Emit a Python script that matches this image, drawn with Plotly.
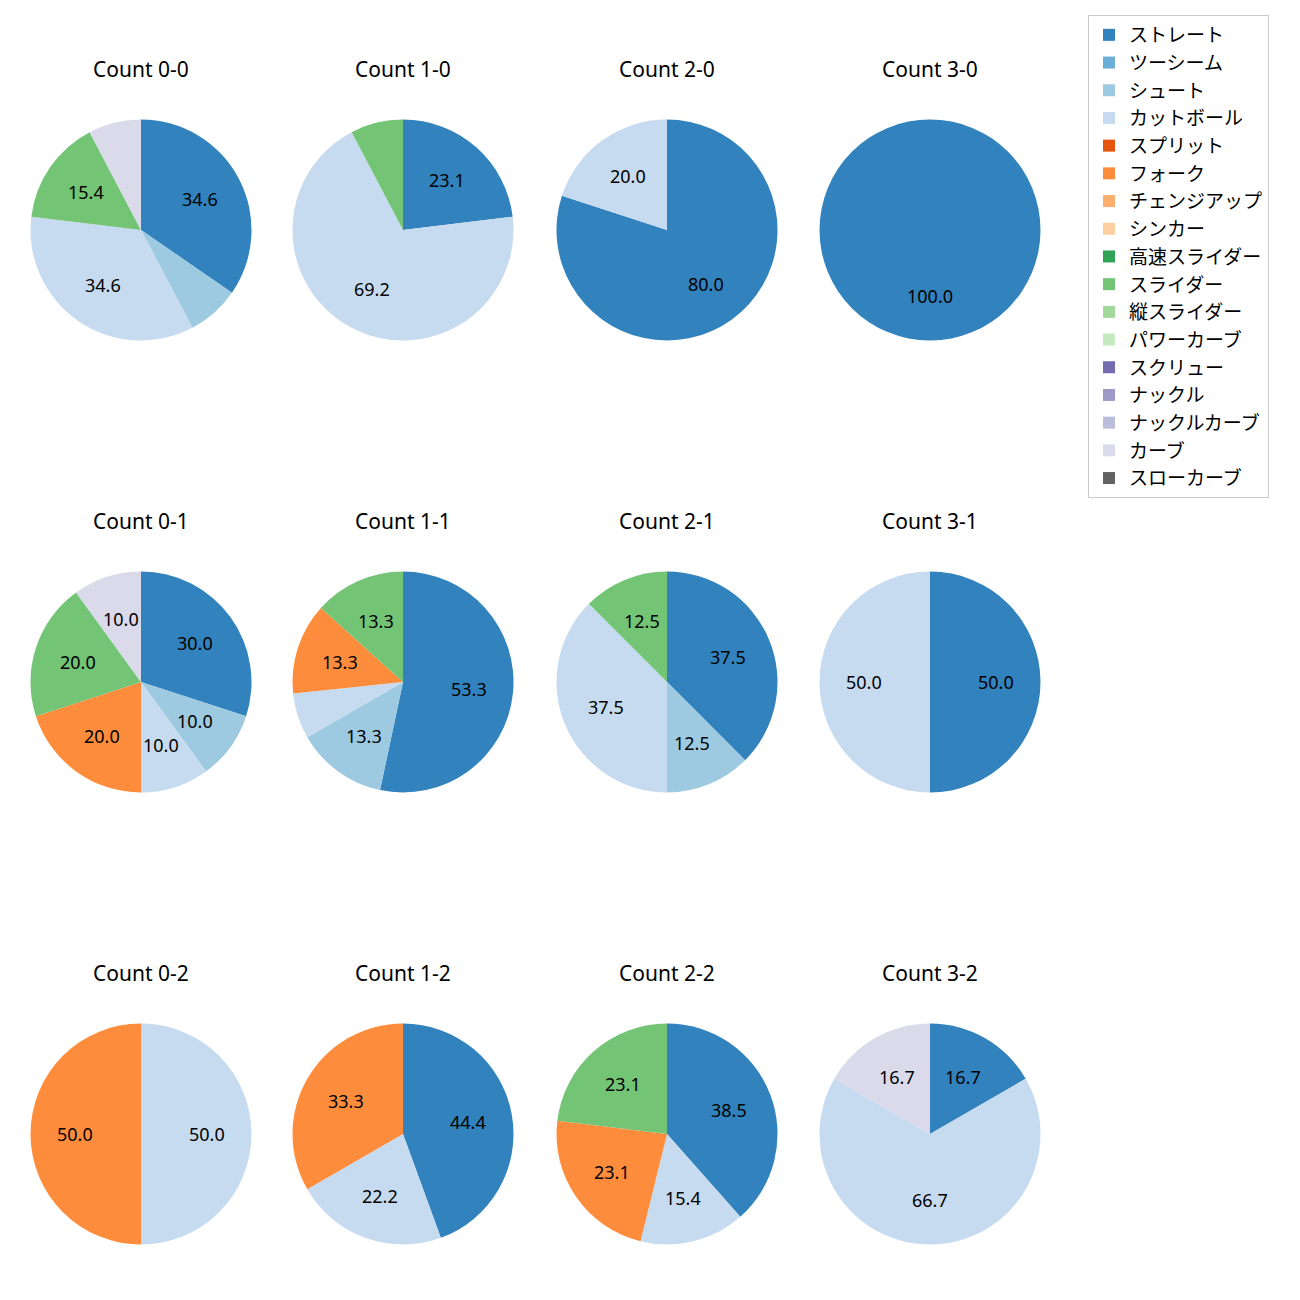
import math
import plotly.graph_objects as go

pitch_types = ["ストレート", "ツーシーム", "シュート", "カットボール", "スプリット", "フォーク",
               "チェンジアップ", "シンカー", "高速スライダー", "スライダー", "縦スライダー",
               "パワーカーブ", "スクリュー", "ナックル", "ナックルカーブ", "カーブ", "スローカーブ"]
colors = ["#3182bd", "#6baed6", "#9ecae1", "#c6dbef", "#e6550d", "#fd8d3c", "#fdae6b", "#fdd0a2",
          "#31a354", "#74c476", "#a1d99b", "#c7e9c0", "#756bb1", "#9e9ac8", "#bcbddc", "#dadaeb",
          "#636363"]

# pitch counts per count situation, in pitch_types order
counts = {
    "Count 0-0": [9, 0, 2, 9, 0, 0, 0, 0, 0, 4, 0, 0, 0, 0, 0, 2, 0],
    "Count 1-0": [3, 0, 0, 9, 0, 0, 0, 0, 0, 1, 0, 0, 0, 0, 0, 0, 0],
    "Count 2-0": [4, 0, 0, 1, 0, 0, 0, 0, 0, 0, 0, 0, 0, 0, 0, 0, 0],
    "Count 3-0": [1, 0, 0, 0, 0, 0, 0, 0, 0, 0, 0, 0, 0, 0, 0, 0, 0],
    "Count 0-1": [3, 0, 1, 1, 0, 2, 0, 0, 0, 2, 0, 0, 0, 0, 0, 1, 0],
    "Count 1-1": [8, 0, 2, 1, 0, 2, 0, 0, 0, 2, 0, 0, 0, 0, 0, 0, 0],
    "Count 2-1": [3, 0, 1, 3, 0, 0, 0, 0, 0, 1, 0, 0, 0, 0, 0, 0, 0],
    "Count 3-1": [1, 0, 0, 1, 0, 0, 0, 0, 0, 0, 0, 0, 0, 0, 0, 0, 0],
    "Count 0-2": [0, 0, 0, 1, 0, 1, 0, 0, 0, 0, 0, 0, 0, 0, 0, 0, 0],
    "Count 1-2": [4, 0, 0, 2, 0, 3, 0, 0, 0, 0, 0, 0, 0, 0, 0, 0, 0],
    "Count 2-2": [5, 0, 0, 2, 0, 3, 0, 0, 0, 3, 0, 0, 0, 0, 0, 0, 0],
    "Count 3-2": [1, 0, 0, 4, 0, 0, 0, 0, 0, 0, 0, 0, 0, 0, 0, 1, 0],
}

W = H = 1300
OFF = 8  # page body margin
col_cx = [141, 403, 667, 930]
row_cy = [230, 682, 1134]
R = 110.5
FONT = "Noto Sans, Noto Sans CJK JP, DejaVu Sans, sans-serif"


def px(x):
    return (x - OFF) / W


def py(y):
    return 1 - (y - OFF) / H


fig = go.Figure()
annotations = []
for i, (title, vals) in enumerate(counts.items()):
    r_i, c_i = divmod(i, 4)
    cx, cy = col_cx[c_i], row_cy[r_i]
    fig.add_trace(go.Pie(
        labels=pitch_types, values=vals, sort=False, direction="clockwise", rotation=0,
        marker=dict(colors=colors, line=dict(width=0)),
        textinfo="none", hoverinfo="label+percent",
        domain=dict(x=[px(cx - R), px(cx + R)], y=[py(cy + R), py(cy - R)]),
        showlegend=(i == 0), name=title,
    ))
    annotations.append(dict(text=title, x=px(cx), y=py(cy - 161), xref="paper", yref="paper",
                            showarrow=False, font=dict(size=21, color="black", family=FONT),
                            xanchor="center", yanchor="middle"))
    total = sum(vals)
    cum = 0
    for v in vals:
        if v <= 0:
            continue
        pct = 100 * v / total
        mid = cum + v / 2
        cum += v
        if pct < 10:
            continue
        ang = math.radians(90 - 360 * mid / total)
        lx = cx + 0.6 * R * math.cos(ang)
        ly = cy - 0.6 * R * math.sin(ang)
        annotations.append(dict(text=f"{pct:.1f}", x=px(lx), y=py(ly), xref="paper", yref="paper",
                                showarrow=False, font=dict(size=18, color="black", family=FONT),
                                xanchor="center", yanchor="middle"))

fig.update_layout(
    width=W, height=H, margin=dict(l=0, r=0, t=0, b=0),
    paper_bgcolor="white", plot_bgcolor="white",
    annotations=annotations,
    legend=dict(x=px(1088), y=py(15), xanchor="left", yanchor="top",
                bordercolor="#cccccc", borderwidth=1, bgcolor="white",
                entrywidth=150, entrywidthmode="pixels",
                font=dict(size=19, family=FONT, color="black"), traceorder="normal"),
    font=dict(family=FONT),
)
fig.write_html("out.html")
